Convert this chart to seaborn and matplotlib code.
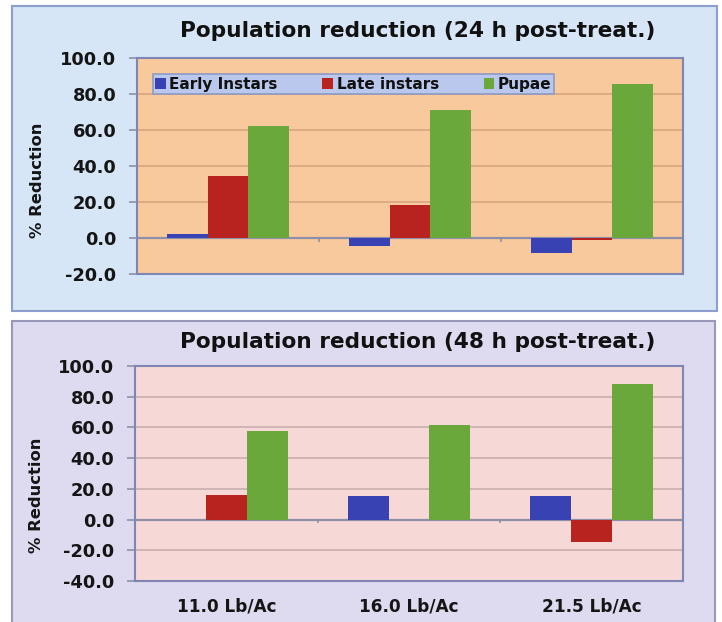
import matplotlib
matplotlib.use("Agg")
import matplotlib.pyplot as plt
from matplotlib.patches import Rectangle
import seaborn as sns
import pandas as pd
import numpy as np

# ---- data ----
doses = ["11.0 Lb/Ac", "16.0 Lb/Ac", "21.5 Lb/Ac"]
stages = ["Early Instars", "Late instars", "Pupae"]
early_24 = [2.5, -4.3, -8.5]
late_24 = [34.2, 18.6, -1.2]
pupae_24 = [62.0, 71.2, 85.5]
early_48 = [0.0, 15.2, 15.2]
late_48 = [16.3, 0.0, -14.5]
pupae_48 = [58.0, 61.5, 88.0]
titles = ["Population reduction (24 h post-treat.)",
          "Population reduction (48 h post-treat.)"]
ylims = [(-20, 100), (-40, 100)]

colors = ["#3942B2", "#B82320", "#6BA83B"]

def long_df(e, l, p):
    rows = []
    for s, vals in zip(stages, [e, l, p]):
        for d, v in zip(doses, vals):
            rows.append({"dose": d, "stage": s, "value": v})
    return pd.DataFrame(rows)

df24 = long_df(early_24, late_24, pupae_24)
df48 = long_df(early_48, late_48, pupae_48)

sns.set_theme(style="white")
FAM = ["DejaVu Sans"]
plt.rcParams["font.family"] = FAM
plt.rcParams["font.weight"] = "bold"

fig = plt.figure(figsize=(7.22, 6.22), dpi=100)
W, H = 722, 622

def fx(x):
    return x / W

def fy(y):
    return 1 - y / H

# outer chart backgrounds
fig.patches.append(Rectangle((fx(12), fy(311)), fx(705), 305 / H,
                             transform=fig.transFigure, facecolor="#D6E6F7",
                             edgecolor="#8C9FCF", lw=1.5, zorder=-5))
fig.patches.append(Rectangle((fx(12), fy(630)), fx(703), 309 / H,
                             transform=fig.transFigure, facecolor="#DEDAEF",
                             edgecolor="#9A98B8", lw=1.5, zorder=-5))

ax1 = fig.add_axes([fx(137), fy(274), fx(546), 216 / H])
ax2 = fig.add_axes([fx(135), fy(581), fx(548), 215 / H])

cfg = [
    (ax1, df24, "#F8C99D", "#D7A57E", titles[0], ylims[0], 418),
    (ax2, df48, "#F6D9D7", "#C8AEAE", titles[1], ylims[1], 418),
]

for i, (ax, df, bg, gc, title, yl, tx) in enumerate(cfg):
    ax.set_facecolor(bg)
    sns.barplot(data=df, x="dose", y="value", hue="stage", palette=colors,
                width=0.67, saturation=1, ax=ax, legend=(i == 0),
                edgecolor="none", linewidth=0, zorder=3)
    ax.set_ylim(*yl)
    ax.set_xlim(-0.5, len(doses) - 0.5)
    ticks = np.arange(yl[0], yl[1] + 1, 20)
    ax.set_yticks(ticks)
    ax.set_yticklabels([f"{t:.1f}" for t in ticks], fontsize=12.8,
                       fontweight="bold", color="#151515")
    ax.grid(axis="y", color=gc, lw=1.2, zorder=1)
    ax.set_axisbelow(True)
    ax.axhline(0, color="#8E8FA8", lw=1.6, zorder=2)
    ax.tick_params(axis="y", which="major", left=True, length=6, width=1.2,
                   color="#8E8FA8", pad=9)
    ax.tick_params(axis="x", bottom=False, length=0)
    for sp in ax.spines.values():
        sp.set_color("#7F86B4")
        sp.set_linewidth(1.5)
    ax.set_xlabel("")
    ax.set_ylabel("% Reduction", fontsize=11.8, fontweight="bold", color="#151515")
    fig.text(fx(tx), fy(31) if i == 0 else fy(342), title, ha="center",
             va="center", fontsize=15.6, fontweight="bold", color="#111111")
    # category boundary ticks on the zero line
    bnd = np.arange(0.5, len(doses) - 0.5, 1.0)
    ax.vlines(bnd, 0, -0.018 * (yl[1] - yl[0]), color="#8E8FA8",
              lw=1.2, zorder=2)

ax1.yaxis.set_label_coords(-0.168, 0.435)
ax2.yaxis.set_label_coords(-0.166, 0.40)
ax1.set_xticklabels([])
ax2.set_xticks(range(len(doses)))
ax2.set_xticklabels(doses, fontsize=12.2, fontweight="bold", color="#151515")
ax2.tick_params(axis="x", pad=12)

# legend
h, l = ax1.get_legend_handles_labels()
leg = ax1.legend(h, l, loc="center", ncol=3,
                 bbox_to_anchor=(0.0147, 0.833, 0.763, 0.093), mode="expand",
                 frameon=True, facecolor="#B9C8EC", edgecolor="#8F9AC4",
                 fancybox=False, framealpha=1, borderpad=0.15,
                 handlelength=0.7, handleheight=0.7, handletextpad=0.25,
                 columnspacing=0.6,
                 prop={"family": FAM, "weight": "bold", "size": 11})
leg.get_frame().set_linewidth(1.2)
for t in leg.get_texts():
    t.set_color("#111111")

fig.savefig("out.png", dpi=100)
